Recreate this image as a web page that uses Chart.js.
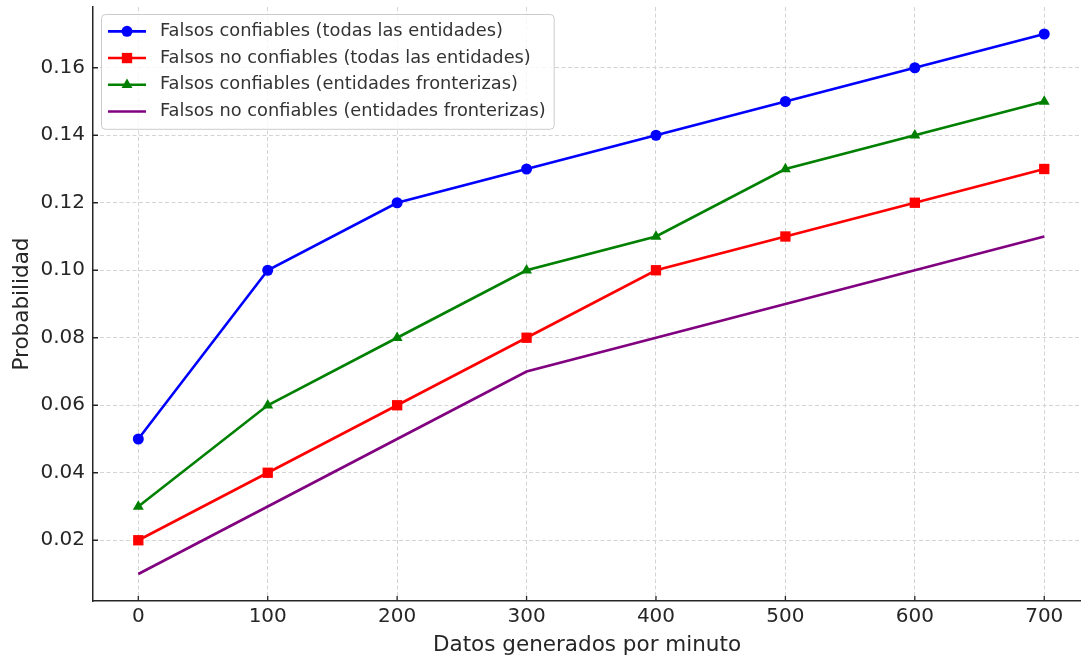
<!DOCTYPE html>
<html>
<head>
<meta charset="utf-8">
<script src="https://cdn.jsdelivr.net/npm/chart.js@4.4.0/dist/chart.umd.min.js"></script>
<style>
  html, body { margin: 0; padding: 0; background: #fff; overflow: hidden; }
  #wrap { position: absolute; left: 0; top: 0; width: 1081px; height: 660px; }
  #chart { width: 1081px; height: 660px; }
</style>
</head>
<body>
<div id="wrap"><canvas id="chart" width="1081" height="660"></canvas></div>
<script>
// data
const minutes = [0, 100, 200, 300, 400, 500, 600, 700];
const confTodas = [0.05, 0.10, 0.12, 0.13, 0.14, 0.15, 0.16, 0.17];
const noConfTodas = [0.02, 0.04, 0.06, 0.08, 0.10, 0.11, 0.12, 0.13];
const confFront = [0.03, 0.06, 0.08, 0.10, 0.11, 0.13, 0.14, 0.15];
const noConfFront = [0.01, 0.03, 0.05, 0.07, 0.08, 0.09, 0.10, 0.11];
const seriesLabels = [
    'Falsos confiables (todas las entidades)',
    'Falsos no confiables (todas las entidades)',
    'Falsos confiables (entidades fronterizas)',
    'Falsos no confiables (entidades fronterizas)'
];
const xTicks = [0, 100, 200, 300, 400, 500, 600, 700];
const yTicks = [0.02, 0.04, 0.06, 0.08, 0.10, 0.12, 0.14, 0.16];

const FONT = '"DejaVu Sans", "Liberation Sans", sans-serif';
const TEXT = '#262626';

function toPoints(values) {
    return minutes.map((m, i) => ({ x: m, y: values[i] }));
}

function makeSet(label, values, color, style, radius) {
    return {
        label: label,
        data: toPoints(values),
        borderColor: color,
        backgroundColor: color,
        borderWidth: 2.6,
        pointStyle: style,
        pointRadius: radius,
        pointHoverRadius: radius,
        pointBorderWidth: 0,
        tension: 0
    };
}

// ticks drawn inward like the original
const innerTicks = {
    id: 'innerTicks',
    afterDraw(chart) {
        const ctx = chart.ctx;
        const xs = chart.scales.x, ys = chart.scales.y;
        const area = chart.chartArea;
        ctx.save();
        ctx.strokeStyle = TEXT;
        ctx.lineWidth = 1.3;
        ctx.beginPath();
        xTicks.forEach(v => {
            const px = xs.getPixelForValue(v);
            ctx.moveTo(px, area.bottom);
            ctx.lineTo(px, area.bottom - 5);
        });
        yTicks.forEach(v => {
            const py = ys.getPixelForValue(v);
            ctx.moveTo(area.left, py);
            ctx.lineTo(area.left + 5, py);
        });
        ctx.stroke();
        ctx.restore();
    }
};

// matplotlib style legend box inside the plot
const boxLegend = {
    id: 'boxLegend',
    afterDraw(chart) {
        const ctx = chart.ctx;
        const area = chart.chartArea;
        const sets = chart.data.datasets;
        ctx.save();
        ctx.font = '17.8px ' + FONT;
        let maxW = 0;
        sets.forEach(d => { maxW = Math.max(maxW, ctx.measureText(d.label).width); });
        const left = area.left + 8, top = area.top + 7;
        const rowH = 26.7;
        const w = 59 + maxW + 8;
        const h = sets.length * rowH + 8;

        ctx.beginPath();
        ctx.roundRect(left + 0.5, top + 0.5, w, h, 4);
        ctx.fillStyle = 'rgba(255,255,255,0.8)';
        ctx.fill();
        ctx.strokeStyle = '#cccccc';
        ctx.lineWidth = 1;
        ctx.stroke();

        sets.forEach((d, i) => {
            const cy = top + 4 + rowH * (i + 0.5);
            ctx.strokeStyle = d.borderColor;
            ctx.lineWidth = d.borderWidth;
            ctx.beginPath();
            ctx.moveTo(left + 7, cy);
            ctx.lineTo(left + 45, cy);
            ctx.stroke();
            if (d.pointRadius > 0) {
                ctx.fillStyle = d.backgroundColor;
                Chart.helpers.drawPoint(ctx, {
                    pointStyle: d.pointStyle, radius: d.pointRadius, rotation: 0, borderWidth: 0
                }, left + 26, cy);
            }
            ctx.fillStyle = '#333333';
            ctx.textBaseline = 'middle';
            ctx.textAlign = 'left';
            ctx.fillText(d.label, left + 59, cy);
        });
        ctx.restore();
    }
};

const ctx = document.getElementById('chart').getContext('2d');
new Chart(ctx, {
    type: 'line',
    data: {
        datasets: [
            makeSet(seriesLabels[0], confTodas, '#0000ff', 'circle', 5.5),
            makeSet(seriesLabels[1], noConfTodas, '#ff0000', 'rect', 7.3),
            makeSet(seriesLabels[2], confFront, '#008000', 'triangle', 6.3),
            makeSet(seriesLabels[3], noConfFront, '#800080', 'circle', 0)
        ]
    },
    options: {
        responsive: false,
        devicePixelRatio: 1,
        animation: false,
        layout: { autoPadding: false, padding: { top: 7, right: 0, left: 0, bottom: 0 } },
        plugins: {
            legend: { display: false },
            title: { display: false },
            tooltip: { enabled: false }
        },
        scales: {
            x: {
                type: 'linear',
                min: -35,
                max: 728.4,
                afterBuildTicks: s => { s.ticks = xTicks.map(v => ({ value: v })); },
                afterFit: s => { s.height = 59; s.paddingLeft = 0; s.paddingRight = 0; },
                grid: { color: '#d4d4d4', lineWidth: 1, drawTicks: false },
                border: { display: true, color: TEXT, width: 1.5, dash: [4, 2.5] },
                ticks: { color: TEXT, padding: 4, font: { family: FONT, size: 20 }, maxRotation: 0 },
                title: {
                    display: true,
                    text: 'Datos generados por minuto',
                    color: TEXT,
                    font: { family: FONT, size: 21.5 },
                    padding: { top: 0, bottom: 2 }
                }
            },
            y: {
                min: 0.002,
                max: 0.178,
                afterBuildTicks: s => { s.ticks = yTicks.map(v => ({ value: v })); },
                afterFit: s => { s.width = 93; s.paddingTop = 0; s.paddingBottom = 0; },
                grid: { color: '#d4d4d4', lineWidth: 1, drawTicks: false },
                border: { display: true, color: TEXT, width: 1.5, dash: [4, 2.5] },
                ticks: {
                    color: TEXT,
                    padding: 8,
                    font: { family: FONT, size: 20 },
                    callback: v => v.toFixed(2)
                },
                title: {
                    display: true,
                    text: 'Probabilidad',
                    color: TEXT,
                    font: { family: FONT, size: 21.5 },
                    padding: { top: 10, bottom: 0 }
                }
            }
        }
    },
    plugins: [innerTicks, boxLegend]
});
</script>
</body>
</html>
